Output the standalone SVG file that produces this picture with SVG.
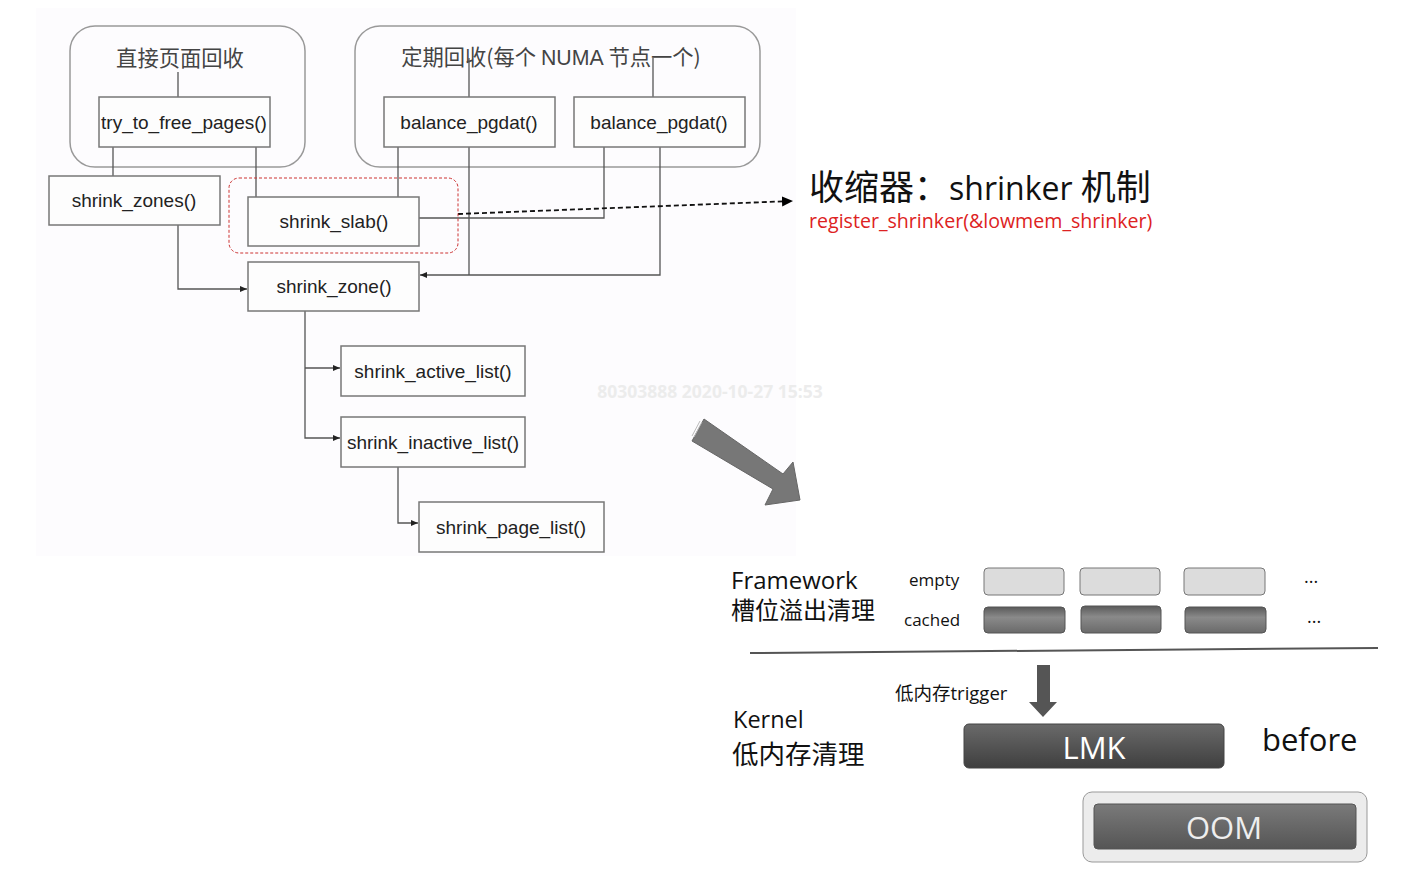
<svg xmlns="http://www.w3.org/2000/svg" width="1407" height="877" viewBox="0 0 1407 877">
<style>
.box{fill:#fdfdfd;stroke:#777;stroke-width:1.5}
.grp{fill:none;stroke:#999;stroke-width:1.5}
.ln{fill:none;stroke:#555;stroke-width:1.3}
.fn{font-family:"Liberation Sans",Arial,sans-serif;font-size:19px;fill:#222;text-anchor:middle}
.cjk{font-family:"Noto Sans CJK SC","Noto Sans",sans-serif}
.ttl{font-size:21.3px;fill:#444;text-anchor:middle}
.sm{font-family:"Open Sans","Noto Sans","Noto Sans CJK SC",sans-serif;fill:#111}
.slotE{fill:#dcdcdc;stroke:#777;stroke-width:1}
.slotC{fill:url(#gC);stroke:#555;stroke-width:1}
</style>
<defs>
<marker id="ah" markerWidth="8" markerHeight="8" refX="7" refY="4" orient="auto" markerUnits="userSpaceOnUse">
<path d="M0,1 L7,4 L0,7 z" fill="#222"/>
</marker>
<marker id="ahb" markerWidth="12" markerHeight="12" refX="11" refY="6" orient="auto" markerUnits="userSpaceOnUse">
<path d="M0,1 L11,6 L0,11 z" fill="#000"/>
</marker>
<linearGradient id="gC" x1="0" y1="0" x2="0" y2="1">
<stop offset="0" stop-color="#5a5a5a"/>
<stop offset="0.4" stop-color="#8a8a8a"/>
<stop offset="1" stop-color="#6a6a6a"/>
</linearGradient>
<linearGradient id="gD" x1="0" y1="0" x2="0" y2="1">
<stop offset="0" stop-color="#6a6a6a"/>
<stop offset="1" stop-color="#3f3f3f"/>
</linearGradient>
<linearGradient id="gO" x1="0" y1="0" x2="0" y2="1">
<stop offset="0" stop-color="#7a7a7a"/>
<stop offset="1" stop-color="#555"/>
</linearGradient>
</defs>
<rect width="1407" height="877" fill="#fff"/>
<rect x="36" y="8" width="760" height="548" fill="#fdfcfe"/>

<g id="group-direct">
<rect class="grp" x="70" y="26" width="235" height="141" rx="25"/>
<text class="cjk ttl" x="180" y="66">直接页面回收</text>
</g>
<g id="group-periodic">
<rect class="grp" x="355" y="26" width="405" height="141" rx="25"/>
<text class="ttl" x="551" y="65"><tspan class="cjk">定期回收(每个 </tspan><tspan font-family="Liberation Sans,Arial,sans-serif">NUMA</tspan><tspan class="cjk"> 节点一个)</tspan></text>
</g>

<g id="connectors">
<path class="ln" d="M178,72 V97"/>
<path class="ln" d="M469,58 V97"/>
<path class="ln" d="M653,58 V97"/>
<path class="ln" d="M113,147 V176"/>
<path class="ln" d="M256,147 V197"/>
<path class="ln" d="M398,147 V197"/>
<path class="ln" d="M604,147 V218 H419"/>
<path class="ln" d="M178,225 V289 H247" marker-end="url(#ah)"/>
<path class="ln" d="M469,147 V275"/>
<path class="ln" d="M660,147 V275 H420" marker-end="url(#ah)"/>
<path class="ln" d="M305,311 V438 H340" marker-end="url(#ah)"/>
<path class="ln" d="M305,368 H340" marker-end="url(#ah)"/>
<path class="ln" d="M398,467 V523 H418" marker-end="url(#ah)"/>
<path d="M458,214 L793,201" fill="none" stroke="#111" stroke-width="1.8" stroke-dasharray="5,3" marker-end="url(#ahb)"/>
<path d="M1037,665 H1050 V702 H1057 L1043,717 L1029,702 H1037 Z" fill="#555"/>
</g>

<g id="try_to_free_pages">
<rect class="box" x="99" y="97" width="171" height="50"/>
<text class="fn" x="184" y="129">try_to_free_pages()</text>
</g>
<g id="balance_pgdat_1">
<rect class="box" x="384" y="97" width="171" height="50"/>
<text class="fn" x="469" y="129">balance_pgdat()</text>
</g>
<g id="balance_pgdat_2">
<rect class="box" x="574" y="97" width="171" height="50"/>
<text class="fn" x="659" y="129">balance_pgdat()</text>
</g>
<g id="shrink_zones">
<rect class="box" x="49" y="176" width="171" height="49"/>
<text class="fn" x="134" y="207">shrink_zones()</text>
</g>
<g id="shrink_slab">
<rect class="box" x="248" y="197" width="171" height="49"/>
<text class="fn" x="334" y="228">shrink_slab()</text>
<rect x="229" y="178" width="229" height="75" rx="10" fill="none" stroke="#c33" stroke-width="1" stroke-dasharray="3,2"/>
</g>
<g id="shrink_zone">
<rect class="box" x="248" y="262" width="171" height="49"/>
<text class="fn" x="334" y="293">shrink_zone()</text>
</g>
<g id="shrink_active_list">
<rect class="box" x="341" y="346" width="184" height="50"/>
<text class="fn" x="433" y="378">shrink_active_list()</text>
</g>
<g id="shrink_inactive_list">
<rect class="box" x="341" y="417" width="184" height="50"/>
<text class="fn" x="433" y="449">shrink_inactive_list()</text>
</g>
<g id="shrink_page_list">
<rect class="box" x="419" y="502" width="185" height="50"/>
<text class="fn" x="511" y="534">shrink_page_list()</text>
</g>

<text x="710" y="398" font-family="'Open Sans','Liberation Sans',sans-serif" font-weight="bold" font-size="17.5" fill="#ececec" text-anchor="middle">80303888 2020-10-27 15:53</text>

<g id="shrinker-title">
<text x="809" y="200" font-family="'Noto Sans CJK SC','Noto Sans',sans-serif" font-size="35" fill="#111">收缩器：<tspan font-family="'Open Sans','Noto Sans',sans-serif" font-size="32">shrinker </tspan>机制</text>
<text x="809" y="228" font-family="'Open Sans','Noto Sans',sans-serif" font-size="19.6" fill="#d22">register_shrinker(&amp;lowmem_shrinker)</text>
</g>

<g id="big-arrow">
<polygon points="704,419 783,474 793,462 800,500 765,505 773,489 692,441" fill="#777" stroke="#666" stroke-width="1"/>
<path d="M702,422 L694,437 M700,421 L692,436" stroke="#bbb" stroke-width="1"/>
</g>

<g id="framework">
<text class="sm" x="731" y="589" font-size="24">Framework</text>
<text class="sm" x="731" y="619" font-size="24">槽位溢出清理</text>
<text class="sm" x="909" y="586" font-size="17">empty</text>
<text class="sm" x="904" y="626" font-size="17">cached</text>
<rect class="slotE" x="984" y="568" width="80" height="27" rx="4"/>
<rect class="slotE" x="1080" y="568" width="80" height="27" rx="4"/>
<rect class="slotE" x="1184" y="568" width="81" height="27" rx="4"/>
<rect class="slotC" x="984" y="607" width="81" height="26" rx="4"/>
<rect class="slotC" x="1081" y="606" width="80" height="27" rx="4"/>
<rect class="slotC" x="1185" y="607" width="81" height="26" rx="4"/>
<text class="sm" x="1304" y="583" font-size="18">...</text>
<text class="sm" x="1307" y="623" font-size="18">...</text>
<path d="M750,653 L1378,648" stroke="#555" stroke-width="2"/>
</g>

<g id="kernel">
<text class="sm" x="733" y="728" font-size="23.5">Kernel</text>
<text class="sm" x="732" y="764" font-size="26.5">低内存清理</text>
<text class="sm" x="895" y="700" font-size="18.5">低内存trigger</text>
</g>
<g id="lmk">
<rect x="964" y="724" width="260" height="44" rx="5" fill="url(#gD)" stroke="#444"/>
<text x="1094" y="759" font-family="'Open Sans','Noto Sans',sans-serif" font-size="31" fill="#fff" text-anchor="middle">LMK</text>
<text class="sm" x="1262" y="751" font-size="31">before</text>
</g>
<g id="oom">
<rect x="1083" y="792" width="284" height="70" rx="9" fill="#ececec" stroke="#999"/>
<rect x="1094" y="804" width="262" height="45" rx="4" fill="url(#gO)" stroke="#555"/>
<text x="1224" y="839" font-family="'Open Sans','Noto Sans',sans-serif" font-size="31" fill="#eee" text-anchor="middle">OOM</text>
</g>
</svg>
